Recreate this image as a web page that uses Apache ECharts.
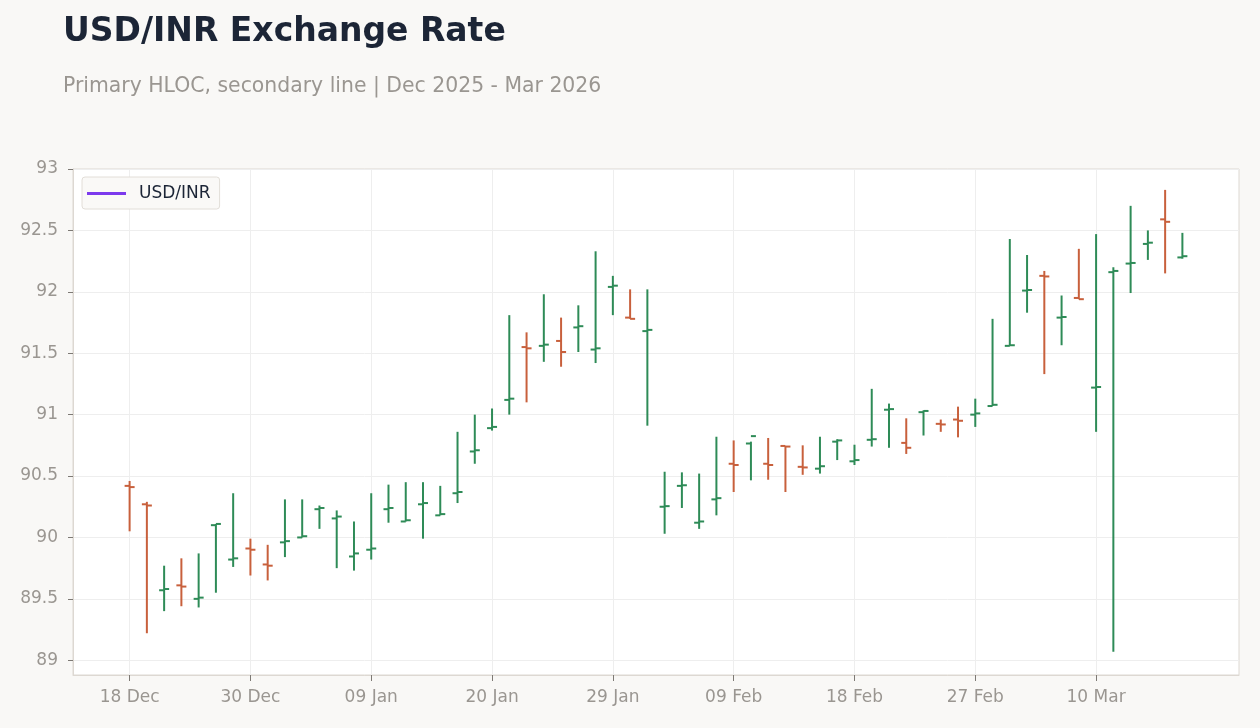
<!DOCTYPE html>
<html>
<head>
<meta charset="utf-8">
<title>USD/INR Exchange Rate</title>
<script src="https://cdn.jsdelivr.net/npm/echarts@6.0.0/dist/echarts.min.js"></script>
<style>
  html, body { margin: 0; padding: 0; background: #f9f8f6; }
  #chart { width: 1260px; height: 728px; }
</style>
</head>
<body>
<div id="chart"></div>
<script>
// trading days, Dec 2025 - Mar 2026
var dates = [
  '2025-12-18', '2025-12-19', '2025-12-22', '2025-12-23', '2025-12-24', '2025-12-26', '2025-12-29', '2025-12-30', '2025-12-31',
  '2026-01-02', '2026-01-05', '2026-01-06', '2026-01-07', '2026-01-08', '2026-01-09', '2026-01-12', '2026-01-13', '2026-01-14',
  '2026-01-15', '2026-01-16', '2026-01-19', '2026-01-20', '2026-01-21', '2026-01-22', '2026-01-23', '2026-01-26', '2026-01-27',
  '2026-01-28', '2026-01-29', '2026-01-30', '2026-02-02', '2026-02-03', '2026-02-04', '2026-02-05', '2026-02-06', '2026-02-09',
  '2026-02-10', '2026-02-11', '2026-02-12', '2026-02-13', '2026-02-16', '2026-02-17', '2026-02-18', '2026-02-19', '2026-02-20',
  '2026-02-23', '2026-02-24', '2026-02-25', '2026-02-26', '2026-02-27', '2026-03-02', '2026-03-03', '2026-03-04', '2026-03-05',
  '2026-03-06', '2026-03-09', '2026-03-10', '2026-03-11', '2026-03-12', '2026-03-13', '2026-03-16', '2026-03-17'
];

var opens = [
  90.42, 90.27, 89.57, 89.61, 89.50, 90.10, 89.82, 89.91, 89.78, 89.96,
  90.00, 90.23, 90.155, 89.845, 89.90, 90.23, 90.13, 90.27, 90.18, 90.36,
  90.70, 90.89, 91.12, 91.55, 91.56, 91.60, 91.71, 91.53, 92.04, 91.79,
  91.68, 90.25, 90.42, 90.12, 90.31, 90.60, 90.765, 90.60, 90.745, 90.575,
  90.56, 90.78, 90.62, 90.795, 91.04, 90.77, 91.02, 90.925, 90.96, 91.00,
  91.07, 91.56, 92.01, 92.13, 91.79, 91.95, 91.22, 92.16, 92.23, 92.39,
  92.59, 92.28
];
var highs = [
  90.46, 90.29, 89.77, 89.83, 89.87, 90.11, 90.36, 89.99, 89.94, 90.31,
  90.31, 90.26, 90.22, 90.13, 90.36, 90.43, 90.45, 90.45, 90.42, 90.86,
  91.00, 91.05, 91.81, 91.67, 91.98, 91.79, 91.89, 92.33, 92.13, 92.02,
  92.02, 90.535, 90.53, 90.52, 90.82, 90.79, 90.78, 90.81, 90.745, 90.75,
  90.82, 90.80, 90.755, 91.21, 91.09, 90.97, 91.035, 90.96, 91.065, 91.13,
  91.78, 92.43, 92.30, 92.17, 91.97, 92.35, 92.47, 92.20, 92.70, 92.50,
  92.83, 92.48
];
var lows = [
  90.05, 89.22, 89.40, 89.44, 89.43, 89.55, 89.76, 89.69, 89.65, 89.84,
  90.00, 90.07, 89.75, 89.73, 89.82, 90.12, 90.13, 89.99, 90.18, 90.28,
  90.60, 90.87, 91.00, 91.10, 91.43, 91.39, 91.51, 91.42, 91.81, 91.78,
  90.91, 90.03, 90.24, 90.07, 90.18, 90.37, 90.465, 90.47, 90.37, 90.51,
  90.52, 90.63, 90.59, 90.74, 90.73, 90.68, 90.83, 90.86, 90.815, 90.90,
  91.07, 91.56, 91.83, 91.33, 91.565, 91.94, 90.86, 89.07, 91.99, 92.26,
  92.15, 92.27
];
var closes = [
  90.41, 90.26, 89.58, 89.60, 89.51, 90.11, 89.83, 89.90, 89.77, 89.97,
  90.01, 90.24, 90.17, 89.87, 89.91, 90.24, 90.14, 90.28, 90.19, 90.37,
  90.71, 90.90, 91.13, 91.54, 91.57, 91.51, 91.72, 91.54, 92.05, 91.78,
  91.69, 90.255, 90.425, 90.13, 90.32, 90.59, 90.825, 90.59, 90.74, 90.57,
  90.58, 90.79, 90.63, 90.80, 91.045, 90.73, 91.03, 90.92, 90.95, 91.01,
  91.08, 91.565, 92.015, 92.125, 91.795, 91.94, 91.225, 92.17, 92.235, 92.40,
  92.57, 92.29
];

var xLabelIdx = [0, 7, 14, 21, 28, 35, 42, 49, 56];
var yTicks = [89, 89.5, 90, 90.5, 91, 91.5, 92, 92.5, 93];

var upColor = '#2e8b57';
var downColor = '#c8603c';
var font = 'DejaVu Sans';
var months = ['Jan', 'Feb', 'Mar', 'Apr', 'May', 'Jun', 'Jul', 'Aug', 'Sep', 'Oct', 'Nov', 'Dec'];

function fmtDate(s) {
  var p = s.split('-');
  return p[2] + ' ' + months[+p[1] - 1];
}

var hloc = dates.map(function (d, i) {
  return [i, opens[i], highs[i], lows[i], closes[i]];
});

var chart = echarts.init(document.getElementById('chart'));

chart.setOption({
  backgroundColor: '#f9f8f6',
  animation: false,
  textStyle: { fontFamily: font },
  title: [{
    text: 'USD/INR Exchange Rate',
    left: 63,
    top: 16,
    padding: 0,
    textStyle: { fontFamily: font, fontSize: 33, fontWeight: 'bold', color: '#1c2536' }
  }, {
    text: 'Primary HLOC, secondary line | Dec 2025 - Mar 2026',
    left: 63,
    top: 77,
    padding: 0,
    textStyle: { fontFamily: font, fontSize: 20.4, fontWeight: 'normal', color: '#9a9691' }
  }],
  legend: {
    data: [{ name: 'USD/INR', icon: 'rect' }],
    left: 82,
    top: 177,
    padding: [8, 9, 7, 5],
    itemWidth: 39,
    itemHeight: 3,
    backgroundColor: '#faf9f7',
    borderColor: '#e2ded8',
    borderWidth: 1,
    borderRadius: 3,
    textStyle: { fontFamily: font, fontSize: 17, color: '#1c2536', padding: [0, 0, 0, 8] }
  },
  grid: {
    left: 73,
    right: 21,
    top: 169,
    bottom: 53,
    show: true,
    backgroundColor: '#ffffff',
    borderColor: '#ddd8d2',
    borderWidth: 1
  },
  xAxis: {
    type: 'value',
    min: -3.28,
    max: 64.28,
    axisLine: { show: true, onZero: false, lineStyle: { color: '#ddd8d2' } },
    axisTick: { show: true, length: 6, lineStyle: { color: '#7d7974', width: 1 }, customValues: xLabelIdx },
    axisLabel: {
      customValues: xLabelIdx,
      margin: 14,
      fontFamily: font,
      fontSize: 17,
      color: '#9a9691',
      formatter: function (v) { return fmtDate(dates[Math.round(v)]); }
    },
    splitLine: { show: true, lineStyle: { color: '#eeeeee' } }
  },
  yAxis: {
    type: 'value',
    min: 88.88,
    max: 93,
    axisLine: { show: true, onZero: false, lineStyle: { color: '#ddd8d2' } },
    axisTick: { show: true, length: 5, lineStyle: { color: '#7d7974', width: 1 }, customValues: yTicks },
    axisLabel: {
      customValues: yTicks,
      margin: 15,
      fontFamily: font,
      fontSize: 17,
      color: '#9a9691'
    },
    splitLine: { show: true, lineStyle: { color: '#eeeeee' } }
  },
  series: [{
    name: 'HLOC',
    type: 'custom',
    data: hloc,
    encode: { x: 0, y: [1, 2, 3, 4] },
    renderItem: function (params, api) {
      var x = api.value(0);
      var o = api.coord([x, api.value(1)]);
      var h = api.coord([x, api.value(2)]);
      var l = api.coord([x, api.value(3)]);
      var c = api.coord([x, api.value(4)]);
      var color = api.value(4) >= api.value(1) ? upColor : downColor;
      var style = { stroke: color, lineWidth: 2, fill: null };
      return {
        type: 'group',
        children: [
          { type: 'line', shape: { x1: h[0], y1: h[1], x2: l[0], y2: l[1] }, style: style },
          { type: 'line', shape: { x1: o[0] - 5, y1: o[1], x2: o[0], y2: o[1] }, style: style },
          { type: 'line', shape: { x1: c[0], y1: c[1], x2: c[0] + 5, y2: c[1] }, style: style }
        ]
      };
    }
  }, {
    name: 'USD/INR',
    type: 'line',
    data: [],
    symbol: 'none',
    showSymbol: false,
    color: '#7c3aed',
    itemStyle: { color: '#7c3aed' },
    lineStyle: { width: 3, color: '#7c3aed' }
  }]
});
</script>
</body>
</html>
